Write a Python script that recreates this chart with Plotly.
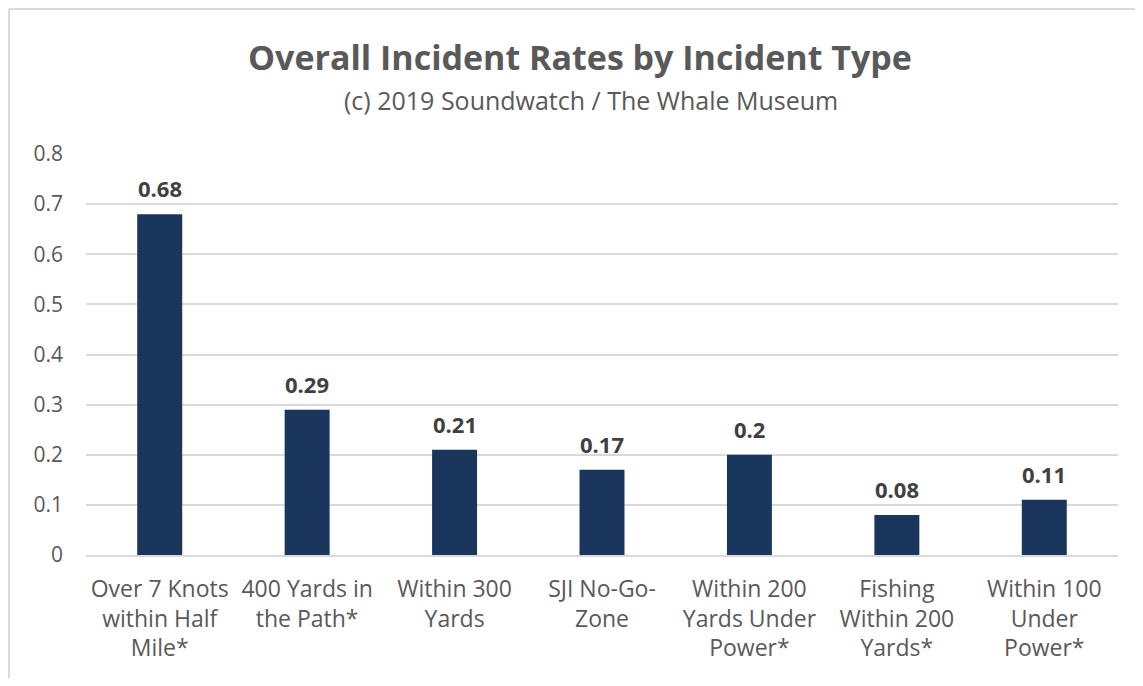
import plotly.graph_objects as go

# incident types (wrapped like the original axis labels)
categories = [
    "Over 7 Knots<br>within Half<br>Mile*",
    "400 Yards in<br>the Path*",
    "Within 300<br>Yards",
    "SJI No-Go-<br>Zone",
    "Within 200<br>Yards Under<br>Power*",
    "Fishing<br>Within 200<br>Yards*",
    "Within 100<br>Under<br>Power*",
]
rates = [0.68, 0.29, 0.21, 0.17, 0.2, 0.08, 0.11]
rate_labels = ["0.68", "0.29", "0.21", "0.17", "0.2", "0.08", "0.11"]

FONT = "Open Sans"
GREY = "#595959"
GRID = "#d9d9d9"

fig = go.Figure(go.Bar(
    x=categories,
    y=rates,
    width=0.305,
    marker=dict(color="#1b365d", line=dict(width=0)),
    hoverinfo="x+y",
))

# value labels sit a little above the bars
for cat, val, lab in zip(categories, rates, rate_labels):
    fig.add_annotation(
        x=cat, y=val, text=f"<b>{lab}</b>", showarrow=False,
        yanchor="bottom", yshift=9,
        font=dict(family=FONT, size=22, color="#404040"),
    )

fig.add_annotation(
    xref="paper", yref="paper", x=0.4787, y=1.242, xanchor="center", yanchor="middle",
    text="<b>Overall Incident Rates by Incident Type</b>", showarrow=False,
    font=dict(family=FONT, size=34, color=GREY),
)
fig.add_annotation(
    xref="paper", yref="paper", x=0.4893, y=1.135, xanchor="center", yanchor="middle",
    text="(c) 2019 Soundwatch / The Whale Museum", showarrow=False,
    font=dict(family=FONT, size=25, color=GREY),
)

# chart area border: only the top and left edges show in the picture
fig.add_shape(type="line", xref="paper", yref="paper",
              x0=-0.0746, x1=1.05, y0=1.3616, y1=1.3616,
              line=dict(color=GRID, width=2), layer="below")
fig.add_shape(type="line", xref="paper", yref="paper",
              x0=-0.0746, x1=-0.0746, y0=-0.4, y1=1.3616,
              line=dict(color=GRID, width=2), layer="below")

# page body adds 8px on each side, so the figure is shrunk to avoid scrollbars
fig.update_layout(
    width=1127, height=670,
    margin=dict(l=78, r=17, t=146, b=123),
    paper_bgcolor="white", plot_bgcolor="white",
    showlegend=False,
    font=dict(family=FONT, color=GREY),
    bargap=0.695,
)
fig.update_xaxes(
    showline=True, linecolor=GRID, linewidth=2,
    ticks="", ticklabelstandoff=12,
    tickfont=dict(family=FONT, size=23, color=GREY),
    tickangle=0,
)
fig.update_yaxes(
    range=[0, 0.8], dtick=0.1, showgrid=True, gridcolor=GRID, gridwidth=2,
    zeroline=False, showline=False, ticks="", ticklabelstandoff=22,
    tickfont=dict(family=FONT, size=21, color=GREY),
)

fig.write_html("out.html")
